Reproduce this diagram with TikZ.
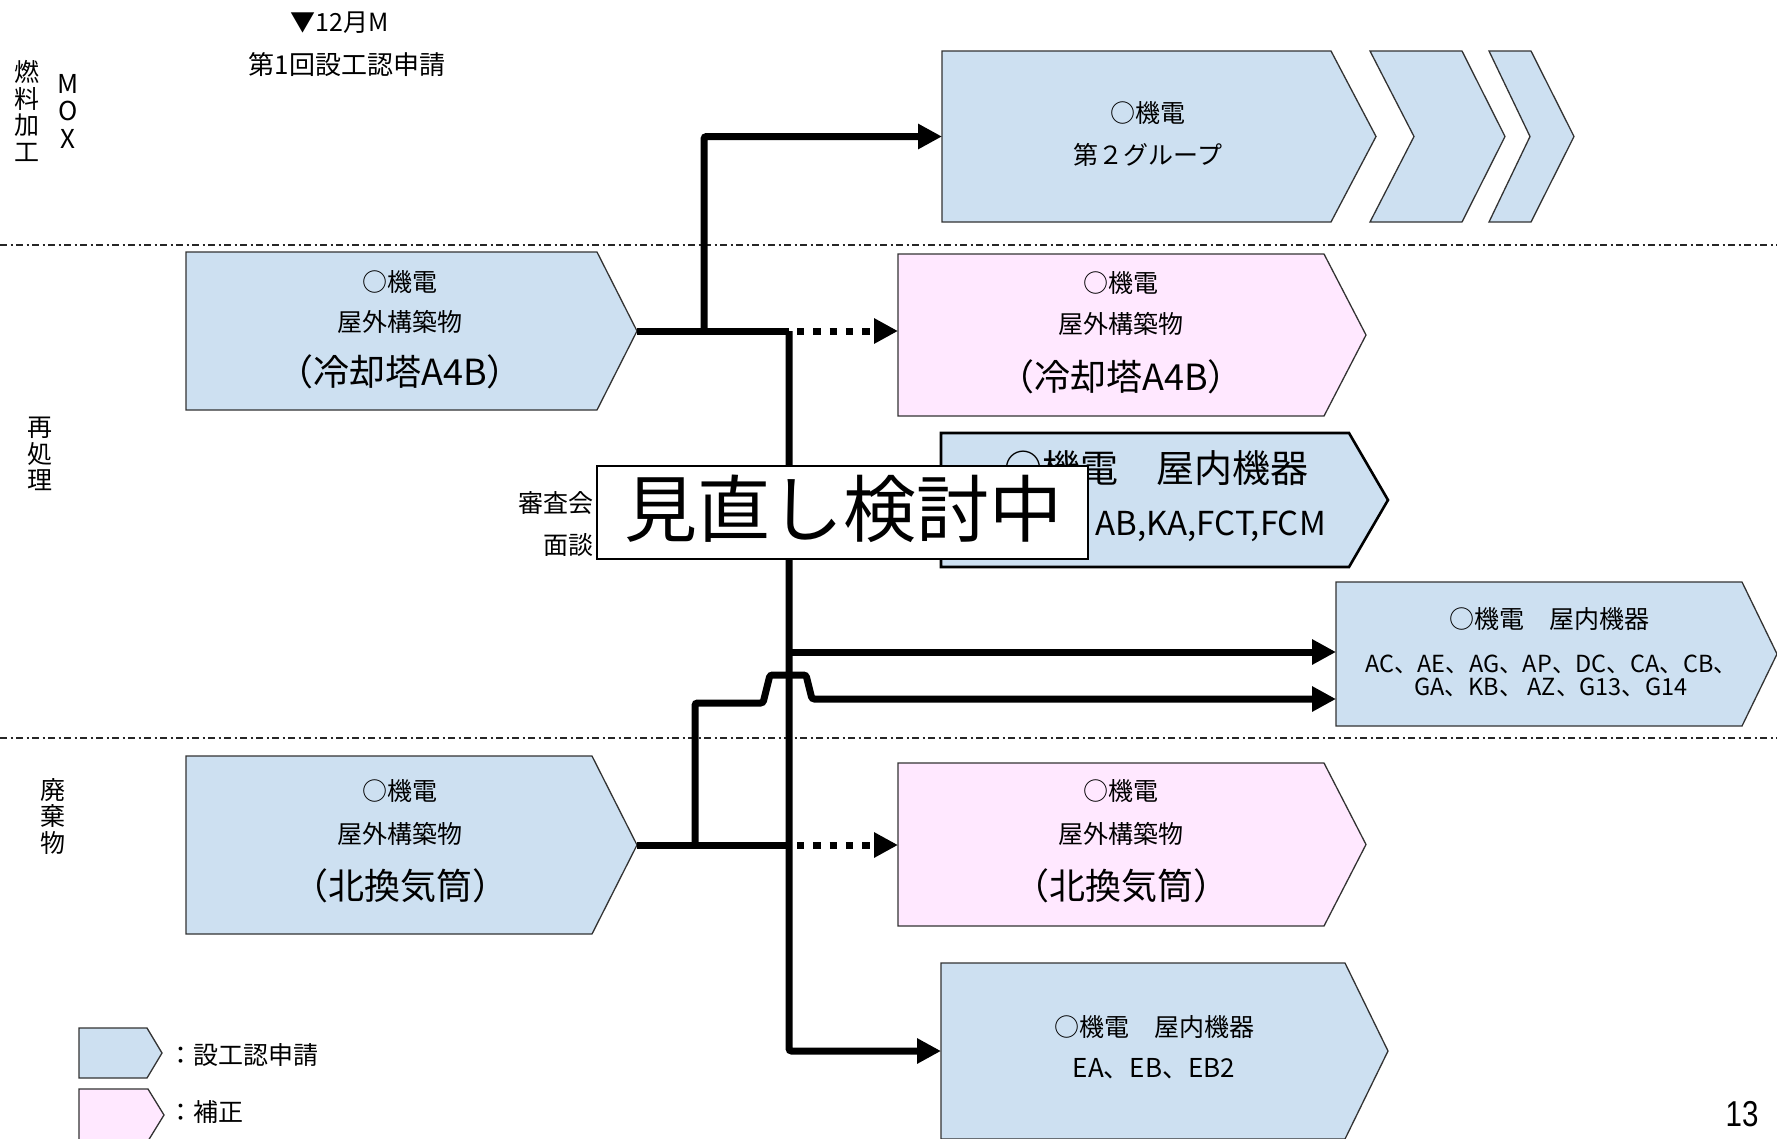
\documentclass[tikz,border=0pt]{standalone}
\usepackage{fontspec}
\usepackage{graphicx}
\setmainfont{Noto Sans CJK JP}
\newfontfamily\numfont{Liberation Sans}
\usetikzlibrary{arrows.meta}
\definecolor{boxblue}{RGB}{205,224,241}
\definecolor{boxpink}{RGB}{255,232,255}
\newcommand{\mypent}[6]{% fill, x1, y1, x2, xtip, y2
  \filldraw[boxline, fill=#1] (#2,#3) -- (#4,#3) -- (#5,{(#3+#6)/2}) -- (#4,#6) -- (#2,#6) -- cycle;}
\tikzset{
  boxline/.style={draw=black!80, line width=1.3pt, line join=miter},
  conn/.style={line width=7pt, rounded corners=2.5pt},
  arr/.style={-{Triangle[length=24pt,width=24pt]}},
  dotconn/.style={line width=7pt, dash pattern=on 7.3pt off 9pt},
  divider/.style={line width=2pt, draw=black!85, dash pattern=on 7pt off 3.5pt on 2pt off 3.5pt},
  txt/.style={inner sep=0pt, font=\fontsize{#1}{#1}\selectfont},
  vlab/.style={inner sep=0pt, align=center, font=\fontsize{25}{26.5}\selectfont},
}
\begin{document}
\begin{tikzpicture}[x=1pt,y=-1pt]
\clip (0,0) rectangle (1777,1138);
\fill[white] (0,0) rectangle (1777,1138);

% dividers
\draw[divider] (0,245) -- (1777,245);
\draw[divider] (0,738) -- (1777,738);

% top labels
\node[txt=25] (mark) at (340,23) {▼12月M};
\node[txt=26] (first) at (347,65) {第1回設工認申請};

% side labels
\node[vlab] (fuel) at (27,111) {燃\\料\\加\\工};
\node[vlab, font=\fontsize{26}{27.5}\selectfont] (mox) at (68,111) {M\\O\\X};
\node[vlab] (repro) at (40,454) {再\\処\\理};
\node[vlab] (waste) at (53,816) {廃\\棄\\物};

% MOX box with chevrons
\mypent{boxblue}{942}{51}{1331}{1376}{222}
\filldraw[boxline, fill=boxblue] (1370,51) -- (1462,51) -- (1505,136.5) -- (1462,222) -- (1370,222) -- (1414,136.5) -- cycle;
\filldraw[boxline, fill=boxblue] (1489,51) -- (1531,51) -- (1574,136.5) -- (1531,222) -- (1489,222) -- (1530,136.5) -- cycle;
\node[txt=25] (mox1) at (1148,113) {○機電};
\node[txt=25] (mox2) at (1148,155) {第２グループ};
\coordinate (MOXw) at (942,136.5);

% left box 1
\mypent{boxblue}{186}{252}{597}{637}{410}
\node[txt=25] (l1a) at (400,282) {○機電};
\node[txt=25] (l1b) at (400,322) {屋外構築物};
\node[txt=36] (l1c) at (400,372) {（冷却塔A4B）};
\coordinate (L1e) at (637,331);

% pink box 1
\mypent{boxpink}{898}{254}{1324}{1366}{416}
\node[txt=25] (p1a) at (1121,283) {○機電};
\node[txt=25] (p1b) at (1121,324) {屋外構築物};
\node[txt=36] (p1c) at (1121,377) {（冷却塔A4B）};
\coordinate (P1w) at (898,331);

% AB box
\filldraw[line width=2.6pt, draw=black, fill=boxblue] (941,433) -- (1349,433) -- (1388,500) -- (1349,567) -- (941,567) -- cycle;
\node[txt=38] (aba) at (1156,468) {○機電　屋内機器};
\node[txt=33, anchor=east] (abb) at (1326,526) {AB,KA,FCT,FCM};

% right box
\mypent{boxblue}{1336}{582}{1742}{1777}{726}
\node[txt=25] (ra) at (1549,619) {○機電　屋内機器};
\node[txt=23.5] (rb) at (1551,664) {AC、AE、AG、AP、DC、CA、CB、};
\node[txt=23.5] (rc) at (1551,687) {GA、KB、 AZ、G13、G14};
\coordinate (Rw1) at (1336,652);
\coordinate (Rw2) at (1336,699);

% left box 2
\mypent{boxblue}{186}{756}{592}{637}{934}
\node[txt=25] (l2a) at (400,791) {○機電};
\node[txt=25] (l2b) at (400,834) {屋外構築物};
\node[txt=36] (l2c) at (400,886) {（北換気筒）};
\coordinate (L2e) at (637,845);

% pink box 2
\mypent{boxpink}{898}{763}{1324}{1366}{926}
\node[txt=25] (p2a) at (1121,791) {○機電};
\node[txt=25] (p2b) at (1121,834) {屋外構築物};
\node[txt=36] (p2c) at (1121,886) {（北換気筒）};
\coordinate (P2w) at (898,845);

% bottom box
\mypent{boxblue}{941}{963}{1345}{1388}{1139}
\node[txt=25] (ba) at (1154,1027) {○機電　屋内機器};
\node[txt=26] (bb) at (1154,1069) {EA、EB、EB2};
\coordinate (Bw) at (941,1051);

% legend
\mypent{boxblue}{79}{1028}{147}{162}{1078}
\mypent{boxpink}{79}{1089}{148}{164}{1141}
\node[txt=25, anchor=west] (lg1) at (168,1055) {：設工認申請};
\node[txt=25, anchor=west] (lg2) at (168,1112) {：補正};

% page number
\node[inner sep=0pt, font=\numfont\fontsize{36}{36}\selectfont] (pg) at (1742,1114) {\scalebox{0.82}[1]{13}};

% connectors
\coordinate (J1) at (789,331);
\coordinate (M1) at (704,331);
\coordinate (J2) at (789,845);
\coordinate (K2) at (695,845);
\coordinate (hopA) at (763,703);
\coordinate (hopB) at (770,675);
\coordinate (hopC) at (806,675);
\coordinate (hopD) at (812,699);

\draw[conn] (L1e) -- (J1);
\draw[conn, arr] (M1) |- (MOXw);
\draw[conn, arr] (J1) -- (J1 |- Bw) -- (Bw);
\draw[conn, arr] (J1 |- Rw1) -- (Rw1);
\draw[dotconn, arr] ([xshift=8pt]J1) -- (P1w);

\draw[conn] (L2e) -- (J2);
\draw[dotconn, arr] ([xshift=8pt]J2) -- (P2w);
\draw[conn, arr] (K2) -- (K2 |- hopA) -- (hopA) -- (hopB) -- (hopC) -- (hopD) -- (Rw2);

% overlay
\node[draw=black, line width=1.3pt, fill=white, minimum width=491pt, minimum height=93pt, inner sep=0pt] (ov) at (842.5,512.5) {};
\node[txt=73] (ovt) at (843,509) {見直し検討中};
\node[txt=25, anchor=east] (sa) at (594,503) {審査会};
\node[txt=25, anchor=east] (sb) at (594,545) {面談};
\end{tikzpicture}
\end{document}
